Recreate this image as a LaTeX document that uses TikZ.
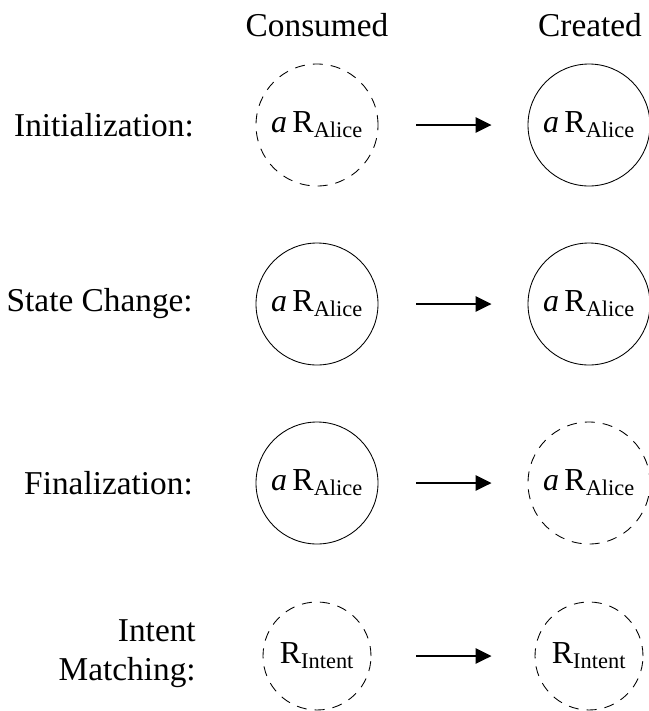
\documentclass[tikz,border=0pt]{standalone}
\usepackage{fontspec}
\setmainfont{Liberation Serif}
\usetikzlibrary{arrows.meta}
\begin{document}
\begin{tikzpicture}[x=0.75pt,y=-0.75pt,
  every node/.style={font=\fontsize{25}{29.5}\selectfont},
  res/.style={circle, draw, line width=0.65pt, inner sep=0pt, minimum size=91.5pt, font=\fontsize{24}{28.5}\selectfont},
  smallres/.style={minimum size=81pt},
  ghost/.style={dash pattern=on 7.5pt off 6pt},
  rowlabel/.style={anchor=east, align=right, inner sep=0pt},
  flow/.style={-{Triangle[length=12pt,width=11.5pt]}, line width=1.5pt, shorten <=28.5pt, shorten >=27pt}]
\useasboundingbox (0,0) rectangle (649,711);
% headers
\node (hc) at (317,25) {Consumed};
\node (hr) at (590,25) {Created};
% row labels
\node[rowlabel] (l1) at (194,125) {Initialization:};
\node[rowlabel] (l2) at (193,304) {State Change:};
\node[rowlabel] (l3) at (193,483) {Finalization:};
\node[rowlabel] (l4) at (196,654) {Intent\\Matching:};
% resources
\node[res, ghost] (c1) at (317,125) {\textit{a}\,R\textsubscript{Alice}};
\node[res] (d1) at (589,125) {\textit{a}\,R\textsubscript{Alice}};
\node[res] (c2) at (317,304) {\textit{a}\,R\textsubscript{Alice}};
\node[res] (d2) at (589,304) {\textit{a}\,R\textsubscript{Alice}};
\node[res] (c3) at (317,483) {\textit{a}\,R\textsubscript{Alice}};
\node[res, ghost] (d3) at (589,483) {\textit{a}\,R\textsubscript{Alice}};
\node[res, smallres, ghost] (c4) at (317,656) {R\textsubscript{Intent}};
\node[res, smallres, ghost] (d4) at (589,656) {R\textsubscript{Intent}};
% arrows
\draw[flow] (c1) -- (d1);
\draw[flow] (c2) -- (d2);
\draw[flow] (c3) -- (d3);
\draw[flow, shorten <=33.75pt, shorten >=32.25pt] (c4) -- (d4);
\end{tikzpicture}
\end{document}
